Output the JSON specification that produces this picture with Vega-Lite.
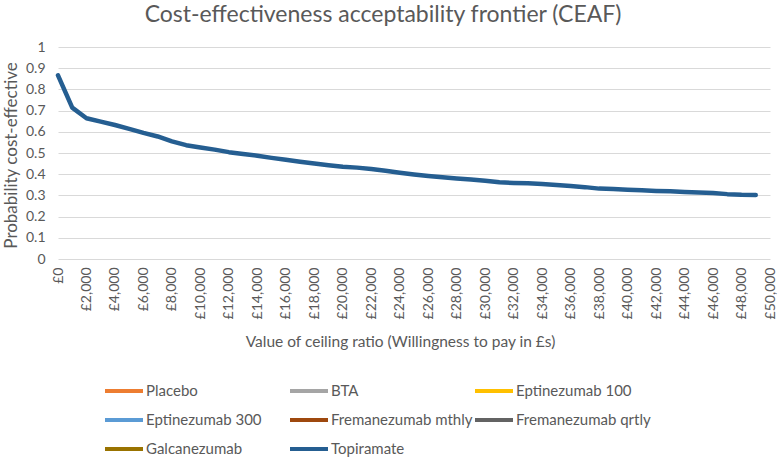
{
  "$schema": "https://vega.github.io/schema/vega-lite/v6.json",
  "autosize": {"type": "none"},
  "padding": {"left": 58, "top": 47, "right": 8, "bottom": 199},
  "width": 712,
  "height": 212,
  "background": "white",
  "title": {
    "text": "Cost-effectiveness acceptability frontier (CEAF)",
    "font": "Lato",
    "fontSize": 23,
    "fontWeight": "normal",
    "color": "#595959",
    "anchor": "middle",
    "dx": -31,
    "offset": 13
  },
  "data": {
    "values": [
      {"wtp": 0, "p": 0.866, "series": "Topiramate"},
      {"wtp": 1000, "p": 0.714, "series": "Topiramate"},
      {"wtp": 2000, "p": 0.664, "series": "Topiramate"},
      {"wtp": 3000, "p": 0.648, "series": "Topiramate"},
      {"wtp": 4000, "p": 0.632, "series": "Topiramate"},
      {"wtp": 5000, "p": 0.614, "series": "Topiramate"},
      {"wtp": 6000, "p": 0.595, "series": "Topiramate"},
      {"wtp": 7000, "p": 0.578, "series": "Topiramate"},
      {"wtp": 8000, "p": 0.555, "series": "Topiramate"},
      {"wtp": 9000, "p": 0.537, "series": "Topiramate"},
      {"wtp": 10000, "p": 0.526, "series": "Topiramate"},
      {"wtp": 11000, "p": 0.516, "series": "Topiramate"},
      {"wtp": 12000, "p": 0.504, "series": "Topiramate"},
      {"wtp": 13000, "p": 0.495, "series": "Topiramate"},
      {"wtp": 14000, "p": 0.487, "series": "Topiramate"},
      {"wtp": 15000, "p": 0.477, "series": "Topiramate"},
      {"wtp": 16000, "p": 0.468, "series": "Topiramate"},
      {"wtp": 17000, "p": 0.459, "series": "Topiramate"},
      {"wtp": 18000, "p": 0.450, "series": "Topiramate"},
      {"wtp": 19000, "p": 0.442, "series": "Topiramate"},
      {"wtp": 20000, "p": 0.435, "series": "Topiramate"},
      {"wtp": 21000, "p": 0.431, "series": "Topiramate"},
      {"wtp": 22000, "p": 0.424, "series": "Topiramate"},
      {"wtp": 23000, "p": 0.416, "series": "Topiramate"},
      {"wtp": 24000, "p": 0.407, "series": "Topiramate"},
      {"wtp": 25000, "p": 0.399, "series": "Topiramate"},
      {"wtp": 26000, "p": 0.392, "series": "Topiramate"},
      {"wtp": 27000, "p": 0.386, "series": "Topiramate"},
      {"wtp": 28000, "p": 0.380, "series": "Topiramate"},
      {"wtp": 29000, "p": 0.375, "series": "Topiramate"},
      {"wtp": 30000, "p": 0.369, "series": "Topiramate"},
      {"wtp": 31000, "p": 0.362, "series": "Topiramate"},
      {"wtp": 32000, "p": 0.359, "series": "Topiramate"},
      {"wtp": 33000, "p": 0.357, "series": "Topiramate"},
      {"wtp": 34000, "p": 0.354, "series": "Topiramate"},
      {"wtp": 35000, "p": 0.349, "series": "Topiramate"},
      {"wtp": 36000, "p": 0.344, "series": "Topiramate"},
      {"wtp": 37000, "p": 0.339, "series": "Topiramate"},
      {"wtp": 38000, "p": 0.332, "series": "Topiramate"},
      {"wtp": 39000, "p": 0.330, "series": "Topiramate"},
      {"wtp": 40000, "p": 0.327, "series": "Topiramate"},
      {"wtp": 41000, "p": 0.324, "series": "Topiramate"},
      {"wtp": 42000, "p": 0.321, "series": "Topiramate"},
      {"wtp": 43000, "p": 0.319, "series": "Topiramate"},
      {"wtp": 44000, "p": 0.316, "series": "Topiramate"},
      {"wtp": 45000, "p": 0.314, "series": "Topiramate"},
      {"wtp": 46000, "p": 0.311, "series": "Topiramate"},
      {"wtp": 47000, "p": 0.306, "series": "Topiramate"},
      {"wtp": 48000, "p": 0.303, "series": "Topiramate"},
      {"wtp": 49000, "p": 0.302, "series": "Topiramate"}
    ]
  },
  "mark": {"type": "line", "strokeWidth": 4.5, "strokeCap": "round", "strokeJoin": "round"},
  "encoding": {
    "x": {
      "field": "wtp",
      "type": "quantitative",
      "scale": {"domain": [0, 50000], "nice": false, "zero": true},
      "axis": {
        "title": "Value of ceiling ratio (Willingness to pay in £s)",
        "values": [0, 2000, 4000, 6000, 8000, 10000, 12000, 14000, 16000, 18000, 20000, 22000, 24000, 26000, 28000, 30000, 32000, 34000, 36000, 38000, 40000, 42000, 44000, 46000, 48000, 50000],
        "labelExpr": "'£' + format(datum.value, ',')",
        "labelAngle": -90,
        "labelAlign": "right",
        "labelBaseline": "middle",
        "labelFont": "Lato",
        "labelFontSize": 14,
        "labelColor": "#595959",
        "labelPadding": 8,
        "labelOverlap": false,
        "labelFlush": false,
        "ticks": false,
        "domain": false,
        "grid": false,
        "titleFont": "Lato",
        "titleFontSize": 15.5,
        "titleFontWeight": "normal",
        "titleColor": "#595959",
        "titleX": 342,
        "titleY": 82,
        "titleAlign": "center",
        "titleBaseline": "middle"
      }
    },
    "y": {
      "field": "p",
      "type": "quantitative",
      "scale": {"domain": [0, 1], "nice": false},
      "axis": {
        "title": "Probability cost-effective",
        "values": [0, 0.1, 0.2, 0.3, 0.4, 0.5, 0.6, 0.7, 0.8, 0.9, 1],
        "format": ".1~f",
        "labelFont": "Lato",
        "labelFontSize": 14,
        "labelColor": "#595959",
        "labelPadding": 13,
        "ticks": false,
        "domain": false,
        "grid": true,
        "gridColor": "#d9d9d9",
        "gridWidth": 1.2,
        "titleFont": "Lato",
        "titleFontSize": 17,
        "titleFontWeight": "normal",
        "titleColor": "#595959",
        "titleX": -47,
        "titleY": 108,
        "titleAlign": "center",
        "titleBaseline": "middle",
        "titleAngle": -90
      }
    },
    "color": {
      "field": "series",
      "type": "nominal",
      "scale": {
        "domain": ["Placebo", "BTA", "Eptinezumab 100", "Eptinezumab 300", "Fremanezumab mthly", "Fremanezumab qrtly", "Galcanezumab", "Topiramate"],
        "range": ["#ED7D31", "#A5A5A5", "#FFC000", "#5B9BD5", "#9E480E", "#636363", "#997300", "#255E91"]
      },
      "legend": {
        "title": null,
        "orient": "none",
        "legendX": 45,
        "legendY": 323,
        "direction": "horizontal",
        "columns": 3,
        "gridAlign": "all",
        "columnPadding": -8,
        "rowPadding": -7.5,
        "symbolType": "stroke",
        "symbolSize": 1444,
        "symbolStrokeWidth": 4,
        "labelOffset": 1,
        "labelFont": "Lato",
        "labelFontSize": 15,
        "labelColor": "#595959",
        "labelLimit": 250
      }
    }
  },
  "config": {
    "view": {"stroke": null}
  }
}
